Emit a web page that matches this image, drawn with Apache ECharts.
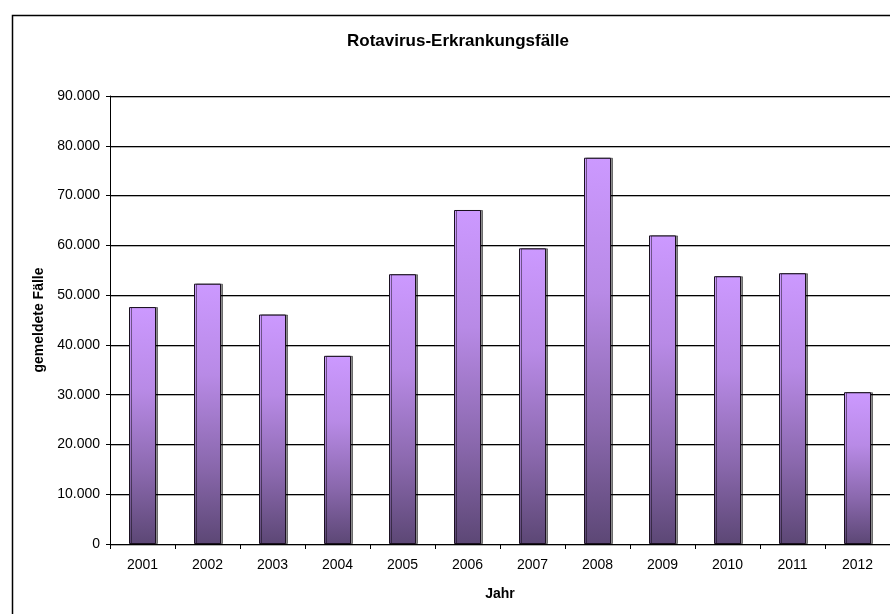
<!DOCTYPE html>
<html>
<head>
<meta charset="utf-8">
<title>Rotavirus-Erkrankungsfälle</title>
<script src="https://cdn.jsdelivr.net/npm/echarts@6/dist/echarts.min.js"></script>
<style>
  html, body { margin: 0; padding: 0; background: #fff; }
  #chart { width: 890px; height: 614px; }
</style>
</head>
<body>
<div id="chart"></div>
<script>
// Jahre
const years = ["2001", "2002", "2003", "2004", "2005", "2006", "2007", "2008", "2009", "2010", "2011", "2012"];
// gemeldete Fälle
const cases = [47600, 52300, 46100, 37800, 54200, 67100, 59400, 77600, 62000, 53800, 54400, 30500];
// Achsenwerte
const yTicks = [0, 10000, 20000, 30000, 40000, 50000, 60000, 70000, 80000, 90000];

const fontFamily = "'Liberation Sans', Arial, sans-serif";

// 30.000 statt 30,000
const fmt = (v) => String(v).replace(/\B(?=(\d{3})+(?!\d))/g, ".");

const myChart = echarts.init(document.getElementById("chart"));

const option = {
  backgroundColor: "#fff",
  animation: false,
  textStyle: { fontFamily: fontFamily },
  title: {
    text: "Rotavirus-Erkrankungsfälle",
    left: 342,
    top: 28,
    textStyle: { fontSize: 17, fontWeight: "bold", color: "#000", fontFamily: fontFamily },
  },
  // Rahmen um das ganze Diagramm
  graphic: [
    {
      type: "rect",
      left: 10,
      top: 13,
      shape: { width: 900, height: 640 },
      style: { fill: "none", stroke: "#000", lineWidth: 1.5 },
      silent: true,
    },
  ],
  grid: {
    left: 110,
    top: 96,
    width: 780,
    height: 448,
    containLabel: false,
  },
  xAxis: {
    type: "category",
    data: years,
    name: "Jahr",
    nameLocation: "middle",
    nameGap: 43,
    nameTextStyle: { fontSize: 14, fontWeight: "bold", color: "#000" },
    axisLine: { lineStyle: { color: "#000", width: 1 } },
    axisTick: { show: true, inside: false, length: 5, alignWithLabel: false, lineStyle: { color: "#000" } },
    axisLabel: { color: "#000", fontSize: 14, margin: 14 },
  },
  yAxis: {
    type: "value",
    min: yTicks[0],
    max: yTicks[yTicks.length - 1],
    interval: yTicks[1] - yTicks[0],
    name: "gemeldete Fälle",
    nameLocation: "middle",
    nameGap: 64,
    nameRotate: 90,
    nameTextStyle: { fontSize: 14, fontWeight: "bold", color: "#000" },
    axisLine: { show: true, lineStyle: { color: "#000", width: 1 } },
    axisTick: { show: true, length: 4, lineStyle: { color: "#000" } },
    axisLabel: { color: "#000", fontSize: 14, margin: 10, formatter: fmt },
    splitLine: {
      show: true,
      lineStyle: { color: "#000", width: 1, shadowColor: "rgba(0,0,0,0.3)", shadowOffsetY: 1 },
    },
  },
  series: [
    {
      type: "bar",
      data: cases,
      barWidth: 27,
      itemStyle: {
        color: new echarts.graphic.LinearGradient(0, 0, 0, 1, [
          { offset: 0, color: "#cc99ff" },
          { offset: 0.35, color: "#b88ae6" },
          { offset: 0.7, color: "#8a68ad" },
          { offset: 1, color: "#5c4775" },
        ]),
        borderColor: "#1a1020",
        borderWidth: 1,
        shadowColor: "rgba(0,0,0,0.45)",
        shadowOffsetX: 2,
        shadowOffsetY: 0,
        shadowBlur: 0,
      },
    },
  ],
};

myChart.setOption(option);
</script>
</body>
</html>
